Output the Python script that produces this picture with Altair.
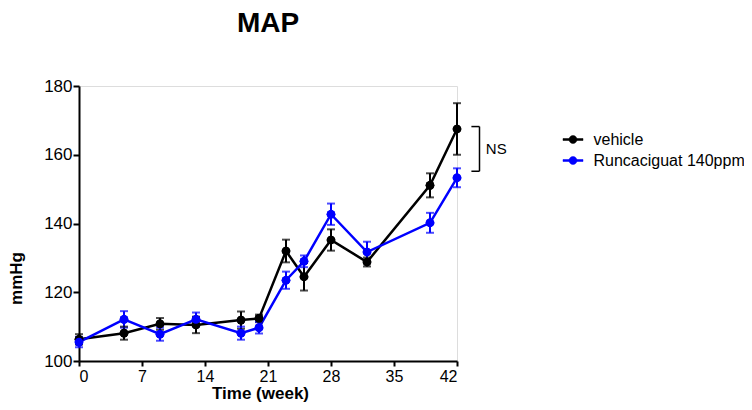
import altair as alt
import pandas as pd

weeks = [0, 5, 9, 13, 18, 20, 23, 25, 28, 32, 39, 42]
vehicle_mean = [106.3, 108.1, 110.8, 110.5, 111.9, 112.4, 132.0, 124.5, 135.2, 128.8, 151.1, 167.5]
vehicle_sem = [1.5, 1.9, 1.7, 2.4, 2.5, 1.1, 3.3, 4.0, 3.1, 1.3, 3.5, 7.5]
runc_mean = [105.5, 112.1, 107.8, 112.1, 108.1, 109.7, 123.5, 129.0, 142.7, 131.7, 140.2, 153.3]
runc_sem = [1.5, 2.4, 1.9, 2.0, 1.9, 1.7, 2.5, 1.7, 3.1, 3.0, 2.9, 2.75]
groups = ["vehicle", "Runcaciguat 140ppm"]
colors = ["#000000", "#0000ff"]

# NS bracket annotation (data units)
bracket_x = [43.6, 44.5]
bracket_y = [168.2, 155.2]
ns_label = "NS"

rows = []
for g, m, s in [(groups[0], vehicle_mean, vehicle_sem), (groups[1], runc_mean, runc_sem)]:
    for w, mv, sv in zip(weeks, m, s):
        rows.append({"week": w, "mmHg": mv, "lo": mv - sv, "hi": mv + sv, "group": g})
df = pd.DataFrame(rows)

FONT = "Liberation Sans"

xscale = alt.Scale(domain=[0, 42], nice=False, zero=False)
yscale = alt.Scale(domain=[100, 180], nice=False, zero=False)
cscale = alt.Scale(domain=groups, range=colors)

symbol_path = "M-1,-0.1H1V0.1H-1Z M0.4,0A0.4,0.4 0 1,1 -0.4,0A0.4,0.4 0 1,1 0.4,0Z"
legend = alt.Legend(title=None, orient="none", legendX=483.5, legendY=43,
                    symbolType=symbol_path, symbolSize=400, symbolStrokeWidth=0.5,
                    labelFont=FONT, labelFontSize=16, labelColor="black",
                    labelOffset=10, rowPadding=2, padding=0, labelLimit=300)
color = alt.Color("group:N", scale=cscale, legend=legend)

xaxis = alt.Axis(values=[0, 7, 14, 21, 28, 35, 42], title="Time (week)", grid=False,
                 domainColor="black", domainWidth=2, tickColor="black", tickWidth=2, tickSize=5,
                 labelFont=FONT, labelFontSize=16, labelColor="black", labelPadding=2,
                 titleFont=FONT, titleFontSize=17, titleFontWeight="bold", titleColor="black",
                 titleBaseline="alphabetic", titleY=37, titleX=181)
yaxis = alt.Axis(values=[100, 120, 140, 160, 180], title="mmHg", grid=False,
                 domainColor="black", domainWidth=2, tickColor="black", tickWidth=2, tickSize=6,
                 labelFont=FONT, labelFontSize=17, labelColor="black", labelPadding=1,
                 titleFont=FONT, titleFontSize=17, titleFontWeight="bold", titleColor="black",
                 titleAngle=-90, titleX=-63, titleY=192, titleBaseline="middle", titleAlign="center")

base = alt.Chart(df)

points = base.mark_point(filled=True, size=75, opacity=1).encode(
    x=alt.X("week:Q", scale=xscale, axis=xaxis),
    y=alt.Y("mmHg:Q", scale=yscale, axis=yaxis),
    color=color,
)

lines = base.mark_line(strokeWidth=2.5).encode(
    x="week:Q", y="mmHg:Q", color=color, detail="group:N",
)

err = base.mark_rule(strokeWidth=2).encode(
    x="week:Q", y="lo:Q", y2="hi:Q", color=color,
)
cap_lo = base.mark_tick(thickness=2, size=8, orient="horizontal").encode(
    x="week:Q", y="lo:Q", color=color,
)
cap_hi = base.mark_tick(thickness=2, size=8, orient="horizontal").encode(
    x="week:Q", y="hi:Q", color=color,
)

# bracket: vertical + two horizontal arms
br_df = pd.DataFrame({"x1": [bracket_x[1], bracket_x[0], bracket_x[0]],
                      "x2": [bracket_x[1], bracket_x[1], bracket_x[1]],
                      "y1": [bracket_y[0], bracket_y[0], bracket_y[1]],
                      "y2": [bracket_y[1], bracket_y[0], bracket_y[1]]})
bracket = alt.Chart(br_df).mark_rule(color="black", strokeWidth=1.5).encode(
    x="x1:Q", x2="x2:Q", y="y1:Q", y2="y2:Q")

ns_df = pd.DataFrame({"x": [45.2], "y": [(bracket_y[0] + bracket_y[1]) / 2], "t": [ns_label]})
ns = alt.Chart(ns_df).mark_text(align="left", baseline="middle", font=FONT, fontSize=15,
                                color="black").encode(x="x:Q", y="y:Q", text="t:N")

chart = alt.layer(points, lines, err, cap_lo, cap_hi, points, bracket, ns).properties(
    width=378, height=275,
    title=alt.TitleParams("MAP", font=FONT, fontSize=28, fontWeight="bold", color="black",
                          anchor="middle", offset=39),
    autosize=alt.AutoSizeParams(type="none"),
    padding={"left": 71, "top": 78, "right": 287, "bottom": 41},
).configure_view(stroke=None).configure(background="white")

chart.save("out.html", embed_options={"renderer": "svg", "actions": False})
